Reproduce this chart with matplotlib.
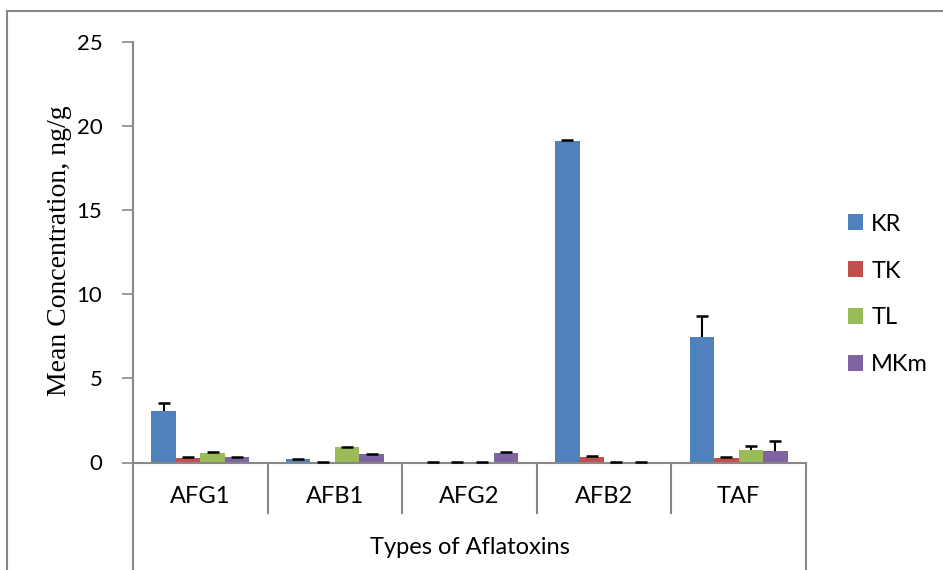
import numpy as np
import matplotlib
matplotlib.use("Agg")
import matplotlib.pyplot as plt
from matplotlib.patches import Rectangle
from matplotlib.lines import Line2D

categorias = ["AFG1", "AFB1", "AFG2", "AFB2", "TAF"]
series = ["KR", "TK", "TL", "MKm"]
cores = ["#4F81BD", "#C0504D", "#9BBB59", "#8064A2"]

kr = [3.03, 0.19, 0.02, 19.12, 7.44]
tk = [0.28, 0.02, 0.02, 0.33, 0.29]
tl = [0.59, 0.90, 0.02, 0.02, 0.72]
mkm = [0.30, 0.50, 0.56, 0.02, 0.68]

kr_err = [0.52, 0.03, 0.0, 0.04, 1.26]
tk_err = [0.03, 0.0, 0.0, 0.03, 0.06]
tl_err = [0.03, 0.03, 0.0, 0.0, 0.26]
mkm_err = [0.03, 0.03, 0.04, 0.0, 0.62]

valores = [kr, tk, tl, mkm]
erros = [kr_err, tk_err, tl_err, mkm_err]

yticks = [0, 5, 10, 15, 20, 25]

cinza = "#888888"
fonte = ["Lato", "DejaVu Sans"]

W, H = 943, 570
fig = plt.figure(figsize=(W / 100, H / 100), dpi=100)

# moldura externa (cortada a direita e embaixo)
fig.patches.append(Rectangle((7 / W, -0.1), 1.2, 1 - 11 / H + 0.1, transform=fig.transFigure,
                             fill=False, edgecolor=cinza, lw=1.5))

ax = fig.add_axes([133 / W, 1 - 462.5 / H, 673 / W, (462.5 - 41.7) / H])
alt = 462.5 - 41.7

x = np.arange(len(categorias))
larg = 1 / 5.5
for i, (s, v, e, c) in enumerate(zip(series, valores, erros, cores)):
    pos = x + (i - 1.5) * larg
    ax.bar(pos, v, width=larg, color=c, label=s, zorder=2)
    eb = ax.errorbar(pos, v, yerr=[np.zeros(len(v)), e], fmt='none', ecolor='black',
                     elinewidth=1.5, capsize=4.5, capthick=1.8, zorder=3)
    eb[1][0].set_visible(False)  # so a barra de cima

ax.set_xlim(-0.5, 4.5)
ax.set_ylim(0, 25)
ax.set_yticks(yticks)
ax.set_yticklabels([str(t) for t in yticks], fontsize=16, family=fonte)
ax.tick_params(axis='y', direction='out', length=8, width=1.2, color=cinza, pad=14)
ax.set_xticks([])
for s in ["top", "right"]:
    ax.spines[s].set_visible(False)
for s in ["left", "bottom"]:
    ax.spines[s].set_color(cinza)
    ax.spines[s].set_linewidth(1.5)

# separadores do eixo x
tr = ax.get_xaxis_transform()
y_sep = -(513 - 462.5) / alt
y_fim = -(575 - 462.5) / alt
for b in np.arange(0.5, 4.5, 1):
    ax.add_line(Line2D([b, b], [0, y_sep], transform=tr, color=cinza, lw=1.5, clip_on=False))
for b in [-0.5, 4.5]:
    ax.add_line(Line2D([b, b], [0, y_fim], transform=tr, color=cinza, lw=1.5, clip_on=False))

y_lab = -(496.5 - 462.5) / alt
for xi, c in zip(x, categorias):
    ax.text(xi, y_lab, c, transform=tr, ha='center', va='center', fontsize=17, family=fonte)
ax.text(2, -(548 - 462.5) / alt, "Types of Aflatoxins", transform=tr,
        ha='center', va='center', fontsize=17, family=fonte)

fig.text(60 / W, 1 - 251 / H, "Mean Concentration, ng/g", rotation=90, ha='center', va='center',
         fontsize=20, family="Liberation Serif")

leg = ax.legend(loc='center left', bbox_to_anchor=(848 / W, 1 - 294.5 / H), bbox_transform=fig.transFigure,
                frameon=False, prop={'family': fonte, 'size': 17}, handlelength=0.64, handleheight=0.64,
                handletextpad=0.34, labelspacing=1.1, borderpad=0, borderaxespad=0)

fig.savefig("out.png", dpi=100)
